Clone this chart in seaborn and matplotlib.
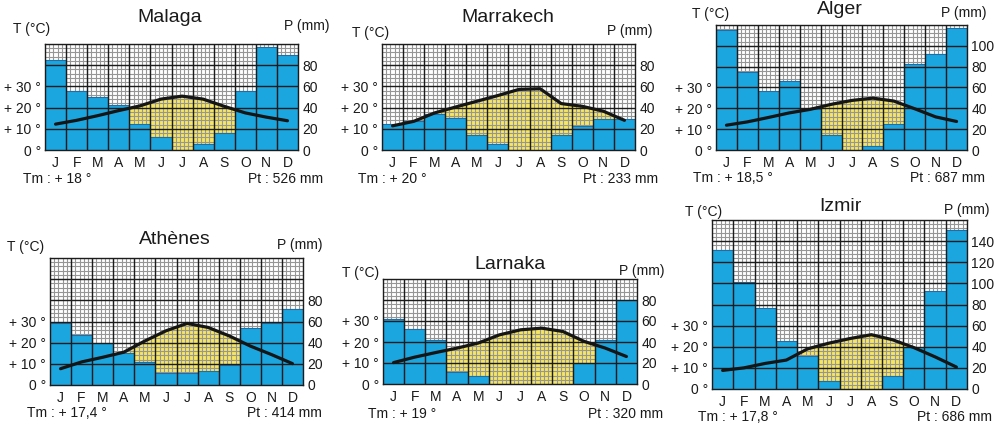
import numpy as np
import matplotlib
matplotlib.use("Agg")
import matplotlib.pyplot as plt
import seaborn as sns

# month labels
months = ['J', 'F', 'M', 'A', 'M', 'J', 'J', 'A', 'S', 'O', 'N', 'D']

# precipitation (mm) and temperature (°C)
malaga_p = [85, 56, 50, 42, 25, 12, 0, 6, 16, 56, 97, 90]
malaga_t = [12.2, 14, 16.2, 18.6, 20.8, 24, 25.4, 24, 20.6, 17.5, 15.5, 13.8]

marrakech_p = [25, 27, 34, 30, 14, 6, 0, 0, 14, 23, 29, 29]
marrakech_t = [11.4, 13.5, 17.5, 20.3, 23, 25.7, 28.6, 28.9, 21.9, 20.6, 18.3, 14]

alger_p = [115, 75, 57, 66, 39, 14, 0, 4, 25, 83, 92, 117]
alger_t = [11.9, 13.5, 15.6, 17.8, 19.5, 21.9, 23.8, 24.9, 23.5, 19.8, 15.9, 13.7]

athenes_p = [59, 47, 40, 30, 22, 11, 11, 13, 19, 54, 59, 72]
athenes_t = [7.7, 10.9, 13.1, 15.5, 20.8, 25.6, 29.1, 27.2, 23.2, 18.4, 14.4, 10.1]

larnaka_p = [62, 52, 42, 11, 8, 0, 0, 0, 0, 20, 42, 80]
larnaka_t = [10.2, 12.8, 15, 17.1, 19.5, 23.4, 25.8, 26.6, 25, 20.3, 17.1, 13.1]

izmir_p = [132, 101, 77, 45, 31, 8, 0, 0, 12, 40, 93, 151]
izmir_t = [8.8, 10, 12.1, 13.7, 19, 21.7, 23.9, 25.7, 23.3, 19.6, 15.2, 10.4]

cities = ['Malaga', 'Marrakech', 'Alger', 'Athènes', 'Larnaka', 'Izmir']
tm_labels = ['Tm : + 18 °', 'Tm : + 20 °', 'Tm : + 18,5 °',
             'Tm : + 17,4 °', 'Tm : + 19 °', 'Tm : + 17,8 °']
pt_labels = ['Pt : 526 mm', 'Pt : 233 mm', 'Pt : 687 mm',
             'Pt : 414 mm', 'Pt : 320 mm', 'Pt : 686 mm']
p_series = [malaga_p, marrakech_p, alger_p, athenes_p, larnaka_p, izmir_p]
t_series = [malaga_t, marrakech_t, alger_t, athenes_t, larnaka_t, izmir_t]
p_top = [100, 100, 120, 120, 100, 160]
p_label_max = [80, 80, 100, 80, 80, 140]
t_ticks = [0, 10, 20, 30]

# layout in pixels: axes (left, top, right, bottom), title x/baseline,
# T label, P label, Tm / Pt baselines
layout = [
    dict(rect=(45, 44, 298, 150), title=(170, 21.5), tl=(13, 33), pl=(330, 30), foot=(23, 323, 183)),
    dict(rect=(382, 44, 635, 150), title=(508, 21.5), tl=(352, 36.5), pl=(653, 35), foot=(358, 658, 183)),
    dict(rect=(716, 25, 967, 150), title=(840, 14.5), tl=(692, 18), pl=(987, 17), foot=(693, 985, 182)),
    dict(rect=(50, 258, 303, 385), title=(175, 244), tl=(7, 251.5), pl=(323, 249), foot=(27, 322, 417)),
    dict(rect=(383, 279, 637, 384), title=(510, 269), tl=(342, 277), pl=(665, 275), foot=(368, 663, 418)),
    dict(rect=(712, 220, 967, 389), title=(840, 211), tl=(685, 216), pl=(990, 214), foot=(698, 992, 421)),
]

W, H = 1004, 428
sns.set_style("white")
plt.rcParams['font.family'] = ['Liberation Sans', 'DejaVu Sans']

blue = '#1ca6e0'
yellow = '#f6e660'
fig = plt.figure(figsize=(W / 100, H / 100), dpi=100)


def fx(x):
    return x / W


def fy(y):
    return 1 - y / H


for i, city in enumerate(cities):
    lay = layout[i]
    l, t, r, b = lay['rect']
    ax = fig.add_axes([fx(l), fy(b), fx(r - l), (b - t) / H])
    p = np.array(p_series[i], dtype=float)
    temp = np.array(t_series[i], dtype=float)
    idx = np.arange(12)

    # dry season: between bars and the 2T curve
    xs = np.linspace(0, 11, 2201)
    curve = np.interp(xs, idx, 2 * temp)
    lvl = p[np.clip(np.floor(xs + 0.5), 0, 11).astype(int)]
    ax.fill_between(xs, lvl, curve, where=curve > lvl, interpolate=True,
                    color=yellow, lw=0, zorder=0.2)

    sns.barplot(x=idx, y=p, ax=ax, color=blue, saturation=1, width=1,
                edgecolor='#1f6ea5', linewidth=0.8, errorbar=None, zorder=2)
    sns.lineplot(x=idx, y=2 * temp, ax=ax, color='#151515', linewidth=2.3, zorder=4)

    top = p_top[i]
    ax.set_xlim(-0.5, 11.5)
    ax.set_ylim(0, top)

    # fine grid
    ax.set_xticks(np.arange(-0.5, 11.51, 0.2), minor=True)
    ax.set_yticks(np.arange(0, top + 0.1, 4), minor=True)
    ax.grid(which='minor', color='#969696', linewidth=0.8)
    ax.grid(which='major', visible=False)
    ax.set_axisbelow(True)

    # main grid over the bars
    for yv in range(20, top, 20):
        ax.axhline(yv, color='#1c1c1c', lw=1.0, zorder=3)
    for xv in np.arange(0.5, 11, 1):
        ax.axvline(xv, color='#1c1c1c', lw=1.0, zorder=3)

    ax.set_xticks(idx, months)
    ax.set_yticks([2 * v for v in t_ticks],
                  ['0 °' if v == 0 else f'+ {v} °' for v in t_ticks])
    ax.tick_params(which='both', length=0, labelsize=10, colors='#1a1a1a')
    ax.tick_params(axis='y', pad=3)
    ax.tick_params(axis='x', pad=4)
    ax.set_xlabel('')
    ax.set_ylabel('')
    for s in ax.spines.values():
        s.set_color('#1c1c1c')
        s.set_linewidth(1.0)
        s.set_zorder(5)

    sec = ax.secondary_yaxis('right')
    sec.set_yticks(range(0, p_label_max[i] + 1, 20))
    sec.tick_params(length=0, labelsize=10, pad=3, colors='#1a1a1a')
    sec.spines['right'].set_visible(False)

    # texts
    tx, ty = lay['title']
    fig.text(fx(tx), fy(ty), city, ha='center', va='baseline', fontsize=14, color='#1a1a1a')
    fig.text(fx(lay['tl'][0]), fy(lay['tl'][1]), 'T (°C)', ha='left', va='baseline',
             fontsize=10, color='#1a1a1a')
    fig.text(fx(lay['pl'][0]), fy(lay['pl'][1]), 'P (mm)', ha='right', va='baseline',
             fontsize=10, color='#1a1a1a')
    x1, x2, yb = lay['foot']
    fig.text(fx(x1), fy(yb), tm_labels[i], ha='left', va='baseline', fontsize=10, color='#1a1a1a')
    fig.text(fx(x2), fy(yb), pt_labels[i], ha='right', va='baseline', fontsize=10, color='#1a1a1a')

fig.savefig('out.png', dpi=100, facecolor='white')
